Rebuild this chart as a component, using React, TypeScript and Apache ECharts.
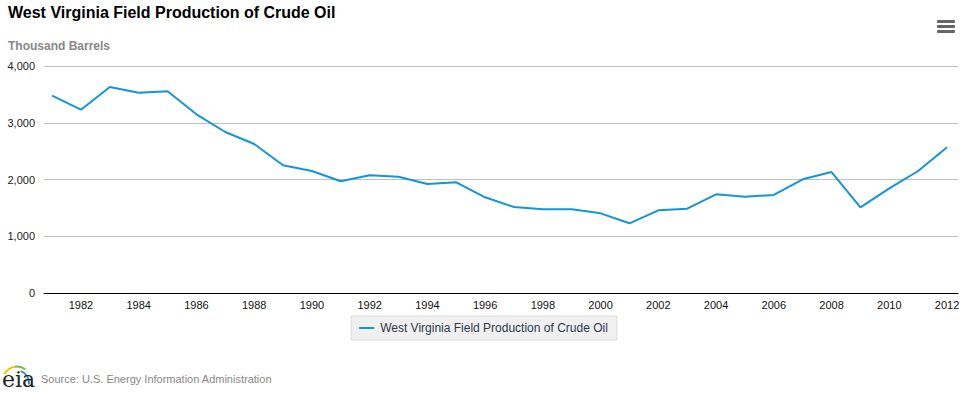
import React, { useEffect, useRef } from "react";
import * as echarts from "echarts";

const years = [1981,1982,1983,1984,1985,1986,1987,1988,1989,1990,1991,1992,1993,1994,1995,1996,1997,1998,1999,2000,2001,2002,2003,2004,2005,2006,2007,2008,2009,2010,2011,2012];
const production = [3477,3230,3630,3530,3554,3149,2837,2626,2250,2150,1968,2074,2050,1921,1950,1686,1515,1475,1475,1404,1228,1457,1486,1739,1697,1727,2004,2132,1510,1845,2150,2567];
const xTickLabels = [1982,1984,1986,1988,1990,1992,1994,1996,1998,2000,2002,2004,2006,2008,2010,2012];
const yTicks = [0, 1000, 2000, 3000, 4000];

const seriesName = "West Virginia Field Production of Crude Oil";
const FONT = "'Liberation Sans', Arial, Helvetica, sans-serif";

export default function App() {
  const ref = useRef<HTMLDivElement>(null);
  useEffect(() => {
    if (!ref.current) return;
    const chart = echarts.init(ref.current, null, { renderer: "svg" });
    chart.setOption({
      animation: false,
      backgroundColor: "#fff",
      textStyle: { fontFamily: FONT },
      title: {
        text: "West Virginia Field Production of Crude Oil",
        left: 8,
        top: 4,
        padding: 0,
        textStyle: { fontFamily: FONT, fontSize: 16, fontWeight: "bold", color: "#000" },
      },
      grid: { left: 44, right: 9, top: 66, bottom: 100, containLabel: false },
      xAxis: {
        type: "value",
        min: 1980.72,
        max: 2012.38,
        splitLine: { show: false },
        axisLine: { show: true, lineStyle: { color: "#000", width: 1 } },
        axisTick: { show: false },
        axisLabel: {
          customValues: xTickLabels,
          formatter: (v: number) => String(v),
          color: "#111",
          fontSize: 11,
          fontFamily: FONT,
          margin: 6,
        },
      },
      yAxis: {
        type: "value",
        min: 0,
        max: 4000,
        interval: 1000,
        axisLine: { show: false },
        axisTick: { show: false },
        splitLine: { lineStyle: { color: "#c0c0c0", width: 1 } },
        axisLabel: {
          customValues: yTicks,
          formatter: (v: number) => v.toLocaleString("en-US"),
          color: "#222",
          fontSize: 11,
          fontFamily: FONT,
          margin: 9,
        },
      },
      legend: {
        show: true,
        left: "center",
        top: 316,
        padding: [6, 9, 6, 8],
        backgroundColor: "#f0f0f0",
        borderColor: "#dcdcdc",
        borderWidth: 1,
        borderRadius: 0,
        icon: "rect",
        itemWidth: 15,
        itemHeight: 2,
        itemGap: 6,
        textStyle: { fontFamily: FONT, fontSize: 12, color: "#2b3a4e", padding: [0, 0, 0, 1] },
        data: [seriesName],
      },
      series: [
        {
          name: seriesName,
          type: "line",
          data: years.map((y, i) => [y, production[i]]),
          symbol: "none",
          lineStyle: { color: "#1396d6", width: 2 },
          itemStyle: { color: "#1396d6" },
        },
      ],
      graphic: [
        {
          type: "text",
          left: 8,
          top: 40,
          style: { text: "Thousand Barrels", fill: "#888", font: `bold 12px ${FONT}` },
        },
        {
          type: "group",
          left: 937,
          top: 20,
          children: [
            { type: "rect", shape: { x: 0, y: 0, width: 18, height: 3, r: 1 }, style: { fill: "#666" } },
            { type: "rect", shape: { x: 0, y: 5, width: 18, height: 3, r: 1 }, style: { fill: "#666" } },
            { type: "rect", shape: { x: 0, y: 10, width: 18, height: 3, r: 1 }, style: { fill: "#666" } },
          ],
        },
        {
          type: "group",
          left: 2,
          top: 364,
          children: [
            { type: "arc", shape: { cx: 16, cy: 18, r: 14, startAngle: Math.PI * 1.15, endAngle: Math.PI * 1.45 }, style: { stroke: "#f2c500", lineWidth: 2, fill: "none" } },
            { type: "arc", shape: { cx: 16, cy: 18, r: 14, startAngle: Math.PI * 1.45, endAngle: Math.PI * 1.7 }, style: { stroke: "#7bbf3a", lineWidth: 2, fill: "none" } },
            { type: "arc", shape: { cx: 16, cy: 20, r: 12, startAngle: Math.PI * 1.6, endAngle: Math.PI * 2.05 }, style: { stroke: "#1f8fd0", lineWidth: 2, fill: "none" } },
            { type: "text", x: 1, y: 6, style: { text: "eia", fill: "#222", font: "22px 'DejaVu Serif', 'Liberation Serif', serif" } },
          ],
        },
        {
          type: "text",
          left: 41,
          top: 373,
          style: { text: "Source: U.S. Energy Information Administration", fill: "#888", font: `11px ${FONT}` },
        },
      ],
    });
    return () => chart.dispose();
  }, []);
  return <div ref={ref} style={{ width: 967, height: 393, position: "absolute", left: 0, top: 0 }} />;
}
